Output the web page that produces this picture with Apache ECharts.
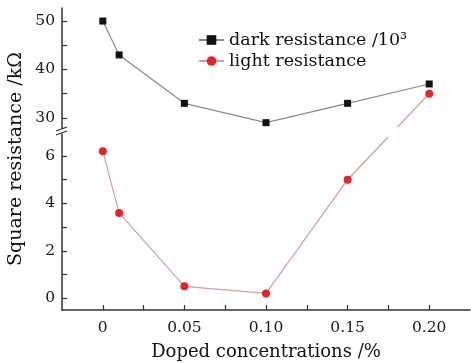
<!DOCTYPE html>
<html>
<head>
<meta charset="utf-8">
<script src="https://cdn.jsdelivr.net/npm/echarts@6/dist/echarts.min.js"></script>
<style>
html,body{margin:0;padding:0;background:#fff;}
#c{width:471px;height:363px;}
</style>
</head>
<body>
<div id="c"></div>
<script>
// ---- data ----
const concentrations = [0, 0.01, 0.05, 0.10, 0.15, 0.20];
const darkResistance = [50, 43, 33, 29, 33, 37];     // kΩ / 10^3 (upper panel)
const lightResistance = [6.2, 3.6, 0.5, 0.2, 5.0, 35]; // kΩ
const xTickLabels = [0, 0.05, 0.10, 0.15, 0.20];
const xTicks = [0, 0.025, 0.05, 0.075, 0.10, 0.125, 0.15, 0.175, 0.20];
const upperYLabels = [30, 40, 50];
const upperYTicks = [30, 35, 40, 45, 50];
const lowerYLabels = [0, 2, 4, 6];
const lowerYTicks = [0, 1, 2, 3, 4, 5, 6];
const seriesNames = ['dark resistance /10³', 'light resistance'];

// ---- layout ----
const FONT = 'DejaVu Serif';
const LEFT = 62, RIGHT = 1;
const UP_TOP = 8, UP_H = 120;
const LO_TOP = 134, LO_H = 176;
const UP_MIN = 27.9, UP_MAX = 52.7;
const LO_MIN = -0.5, LO_MAX = 6.93;
const X_MIN = -0.025, X_MAX = 0.225;

const lightLower = [], lightUpper = [];
concentrations.forEach((x, i) => {
  const v = lightResistance[i];
  if (v <= LO_MAX) lightLower.push([x, v]); else lightUpper.push([x, v]);
});
const darkData = concentrations.map((x, i) => [x, darkResistance[i]]);

const axisLineStyle = { color: '#333', width: 1.5 };
const tickLabelStyle = { color: '#1a1a1a', fontFamily: FONT, fontSize: 15.5 };

const chart = echarts.init(document.getElementById('c'));
chart.setOption({
  backgroundColor: '#fff',
  animation: false,
  grid: [
    { left: LEFT, right: RIGHT, top: UP_TOP, height: UP_H },
    { left: LEFT, right: RIGHT, top: LO_TOP, height: LO_H }
  ],
  legend: {
    orient: 'vertical', left: 198, top: 30, padding: 0,
    itemWidth: 25, itemHeight: 12, itemGap: 1,
    textStyle: { fontFamily: FONT, fontSize: 17.5, color: '#111', lineHeight: 20 },
    data: seriesNames
  },
  xAxis: [
    { gridIndex: 0, type: 'value', min: X_MIN, max: X_MAX, show: false },
    {
      gridIndex: 1, type: 'value', min: X_MIN, max: X_MAX,
      axisLine: { onZero: false, lineStyle: axisLineStyle },
      splitLine: { show: false },
      axisTick: { inside: true, length: 5, customValues: xTicks, lineStyle: { color: '#333', width: 1.2 } },
      axisLabel: Object.assign({ margin: 10, customValues: xTickLabels,
        formatter: v => (Math.abs(v) < 1e-9 ? '0' : v.toFixed(2)) }, tickLabelStyle),
      name: 'Doped concentrations /%', nameLocation: 'middle', nameGap: 33,
      nameTextStyle: { fontFamily: FONT, fontSize: 18, color: '#111' }
    }
  ],
  yAxis: [
    {
      gridIndex: 0, type: 'value', min: UP_MIN, max: UP_MAX,
      axisLine: { show: true, onZero: false, lineStyle: axisLineStyle },
      splitLine: { show: false },
      axisTick: { inside: true, length: 5, customValues: upperYTicks, lineStyle: { color: '#333', width: 1.2 } },
      axisLabel: Object.assign({ margin: 7, customValues: upperYLabels }, tickLabelStyle)
    },
    {
      gridIndex: 1, type: 'value', min: LO_MIN, max: LO_MAX,
      axisLine: { show: true, onZero: false, lineStyle: axisLineStyle },
      splitLine: { show: false },
      axisTick: { inside: true, length: 5, customValues: lowerYTicks, lineStyle: { color: '#333', width: 1.2 } },
      axisLabel: Object.assign({ margin: 7, customValues: lowerYLabels }, tickLabelStyle)
    }
  ],
  series: [
    {
      name: seriesNames[0], type: 'line', xAxisIndex: 0, yAxisIndex: 0,
      data: darkData, symbol: 'rect', symbolSize: 7, z: 3,
      lineStyle: { color: '#8a8a8a', width: 1.2 },
      itemStyle: { color: '#111' }
    },
    {
      name: seriesNames[1], type: 'line', xAxisIndex: 1, yAxisIndex: 1,
      data: lightLower, symbol: 'circle', symbolSize: 8, z: 3,
      lineStyle: { color: '#d99a9a', width: 1.2 },
      itemStyle: { color: '#e3262b' }
    },
    {
      name: seriesNames[1], type: 'line', xAxisIndex: 0, yAxisIndex: 0,
      data: lightUpper, symbol: 'circle', symbolSize: 8, z: 3,
      lineStyle: { color: '#d99a9a', width: 1.2 },
      itemStyle: { color: '#e3262b' }
    }
  ]
});

// ---- segments of the light series crossing the axis break (via library scales) ----
const upBottom = UP_TOP + UP_H, loTop = LO_TOP;
const graphics = [];
for (let i = 0; i < concentrations.length - 1; i++) {
  const a = lightResistance[i], b = lightResistance[i + 1];
  const aLow = a <= LO_MAX, bLow = b <= LO_MAX;
  if (aLow === bLow) continue;
  const low = aLow ? i : i + 1, up = aLow ? i + 1 : i;
  const pL = chart.convertToPixel({ xAxisIndex: 1, yAxisIndex: 1 }, [concentrations[low], lightResistance[low]]);
  const pU = chart.convertToPixel({ xAxisIndex: 0, yAxisIndex: 0 }, [concentrations[up], lightResistance[up]]);
  const xAt = y => pL[0] + (pU[0] - pL[0]) * (y - pL[1]) / (pU[1] - pL[1]);
  const ls = { stroke: '#d99a9a', lineWidth: 1.2 };
  graphics.push({ type: 'line', z: 2, shape: { x1: pL[0], y1: pL[1], x2: xAt(loTop + 3), y2: loTop + 3 }, style: ls });
  graphics.push({ type: 'line', z: 2, shape: { x1: xAt(upBottom - 1), y1: upBottom - 1, x2: pU[0], y2: pU[1] }, style: ls });
}
// break marks on the y axis
graphics.push({ type: 'line', z: 5, shape: { x1: LEFT - 6, y1: upBottom + 3, x2: LEFT + 5, y2: upBottom - 1 }, style: { stroke: '#333', lineWidth: 1.3 } });
graphics.push({ type: 'line', z: 5, shape: { x1: LEFT - 6, y1: loTop + 1, x2: LEFT + 5, y2: loTop - 3 }, style: { stroke: '#333', lineWidth: 1.3 } });
// y axis title spanning both panels
graphics.push({
  type: 'text', x: 16, y: (UP_TOP + LO_TOP + LO_H) / 2, rotation: Math.PI / 2, z: 5,
  style: { text: 'Square resistance /kΩ', fontFamily: FONT, fontSize: 19, fill: '#111', align: 'center', verticalAlign: 'middle' }
});
chart.setOption({ graphic: graphics });
</script>
</body>
</html>
